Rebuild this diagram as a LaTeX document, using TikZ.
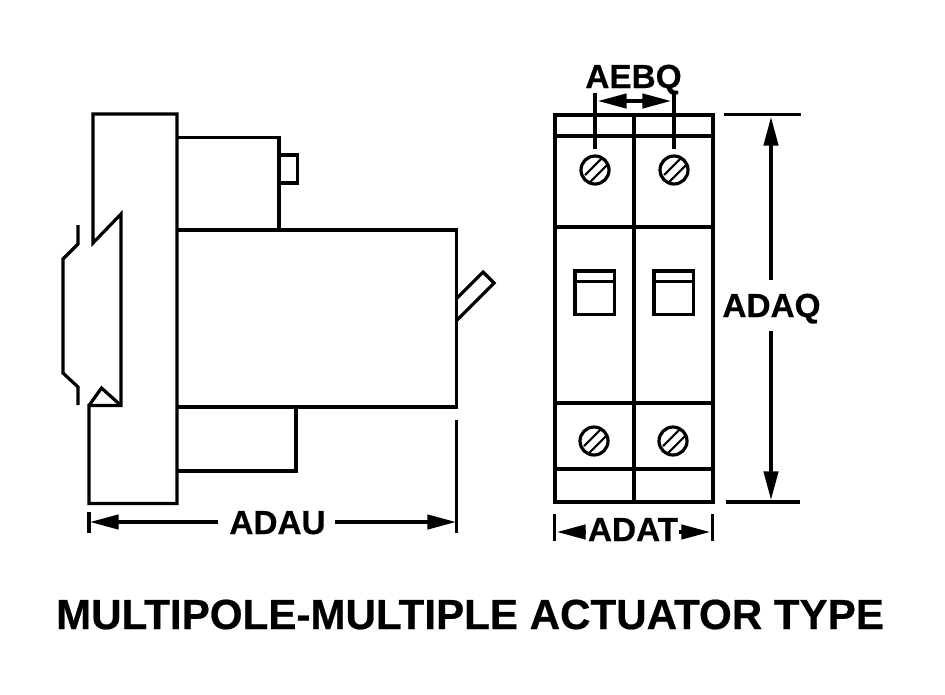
\documentclass[tikz,border=0pt]{standalone}
\usepackage{fontspec}
\setmainfont[BoldFeatures={FakeBold=0.5}]{Liberation Sans}
\usetikzlibrary{arrows.meta}
\tikzset{
  x=0.75pt,y=-0.75pt,
  ln/.style={line width=2.4pt,line cap=butt,line join=miter,miter limit=3},
  thin ln/.style={line width=1.6pt},
  onearrow/.style={line width=2.4pt,-{Triangle[length=21.5pt,width=10.8pt]}},
  botharrow/.style={line width=2.4pt,{Triangle[length=21.5pt,width=10.8pt]}-{Triangle[length=21.5pt,width=10.8pt]}},
  lab/.style={font=\bfseries\fontsize{25}{25}\selectfont,inner sep=0pt,text=black,anchor=base},
  ttl/.style={font=\bfseries\fontsize{31.6}{32}\selectfont,inner sep=0pt,text=black,anchor=base},
}
\newcommand{\screw}[2]{%
  \draw[ln] (#1,#2) circle[radius=14];
  \draw[thin ln] (#1-10,#2+5) -- (#1+6,#2-11);
  \draw[thin ln] (#1-5,#2+12) -- (#1+12,#2-5);
}
\begin{document}
\begin{tikzpicture}
\useasboundingbox (0,0) rectangle (945,694);
% side view
\draw[ln] (93,243) -- (93,114) -- (177,114) -- (177,503.5) -- (89,503.5) -- (89,405.5) -- (121,405.5) -- (121,214) -- cycle;
\draw[ln] (89,405.5) -- (101.5,388) -- (121,405.5);
\draw[ln] (78,225) -- (78,244) -- (63,259) -- (63,373) -- (78,387) -- (78,405);
\draw[ln] (177,137.5) -- (279,137.5) -- (279,230);
\draw[ln] (279,155) -- (297.5,155) -- (297.5,183) -- (279,183);
\draw[ln] (177,230) -- (456.5,230) -- (456.5,407) -- (177,407);
\draw[ln] (296,407) -- (296,471) -- (177,471);
\draw[ln] (457,298) -- (483,272) -- (494,283) -- (457,320);
% ADAU
\node[lab] (adau) at (277.5,534) {ADAU};
\coordinate (ul) at (90,522); \coordinate (ur) at (456,522);
\coordinate (uli) at (218,522); \coordinate (uri) at (335,522);
\draw[ln] (89,512) -- (89,533);
\draw[ln] (456.5,420) -- (456.5,533);
\draw[onearrow] (uli) -- (ul);
\draw[onearrow] (uri) -- (ur);
% front view
\draw[ln] (555,115) rectangle (713,502);
\draw[ln] (634,115) -- (634,502);
\foreach \yy in {136,227,403,469} \draw[ln] (555,\yy) -- (713,\yy);
\screw{595}{170}\screw{674}{170}\screw{594}{441}\screw{673}{441}
\foreach \xx in {575,654} {
  \draw[ln] (\xx,271) rectangle (\xx+39.5,314.5);
  \draw[ln] (\xx,281.5) -- (\xx+39.5,281.5);
}
% AEBQ
\node[lab] (aebq) at (633.5,88) {AEBQ};
\draw[ln] (595,93) -- (595,149);
\draw[ln] (674,93) -- (674,149);
\coordinate (al) at (598,101); \coordinate (ar) at (671,101);
\draw[botharrow] (al) -- (ar);
% ADAQ
\node[lab] (adaq) at (771.5,317) {ADAQ};
\coordinate (qt) at (771,117); \coordinate (qb) at (771,500);
\coordinate (qti) at (771,280); \coordinate (qbi) at (771,331);
\draw[ln] (724,114.5) -- (801,114.5);
\draw[ln] (726,502) -- (800,502);
\draw[onearrow] (qti) -- (qt);
\draw[onearrow] (qbi) -- (qb);
% ADAT
\node[lab] (adat) at (633,541) {ADAT};
\draw[ln] (554.5,514) -- (554.5,541);
\draw[ln] (712.5,514) -- (712.5,541);
\coordinate (tl) at (557,532); \coordinate (tr) at (710,532);
\coordinate (tli) at (586,532); \coordinate (tri) at (679,532);
\draw[onearrow] (tli) -- (tl);
\draw[onearrow] (tri) -- (tr);
% title
\node[ttl] (title) at (470,629) {MULTIPOLE-MULTIPLE ACTUATOR TYPE};
\end{tikzpicture}
\end{document}
